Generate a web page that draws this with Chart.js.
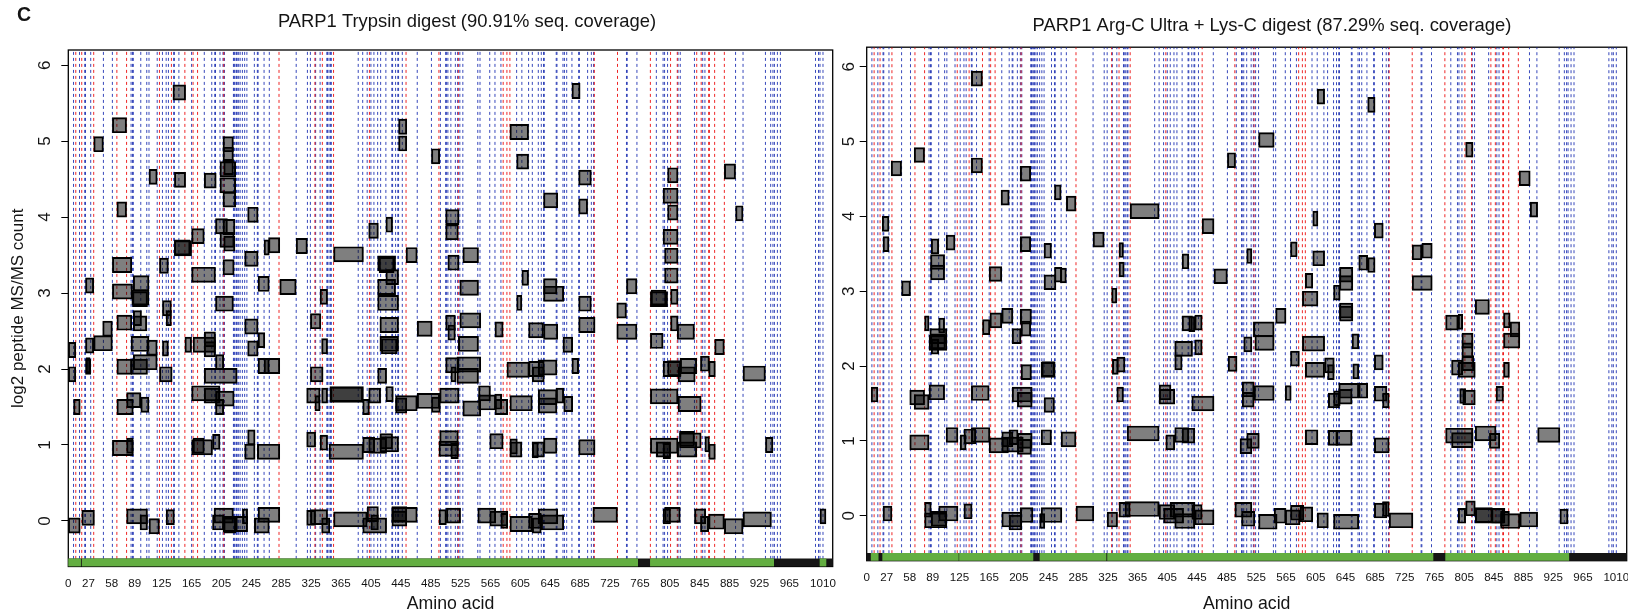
<!DOCTYPE html>
<html>
<head>
<meta charset="utf-8">
<script src="https://cdn.jsdelivr.net/npm/chart.js@4.4.1/dist/chart.umd.min.js"></script>
<style>
html,body{margin:0;padding:0;background:#fff;}
body{width:1628px;height:616px;position:relative;overflow:hidden;}
#c1{position:absolute;left:0;top:0;}
#c2{position:absolute;left:820px;top:0;}
</style>
</head>
<body>
<canvas id="c1" width="850" height="616"></canvas>
<canvas id="c2" width="808" height="616"></canvas>
<script>
// ---------- DATA ----------
// Human PARP1 (P09874) sequence: K residues -> blue dashed lines, R residues -> red dashed lines
const parp1Sequence =
  "MAESSDKLYRVEYAKSGRASCKKCSESIPKDSLRMAIMVQSPMFDGKVPHWYHFSCFWKVGHSIRHPDVEVDGFSELRWDDQQKVKKTAEAGGVTGKGQDGIGSKAEKTLGDFAAEYAKSNRSTCKGCMEKIEKGQVRLSKKMVDPEKPQLGMIDRWYHPGCFVKNREELGFRPEYSASQLKGFSLLATEDKEALKKQLPGVKSEGKRKGDEVDGVDEVAKKKSKKEKDKDSKLEKALKAQNDLIWNIKDELKKVCSTNDLKELLIFNKQQVPSGESAILDRVADGMVFGALLPCEECSGQLVFKSDAYYCTGDVTAWTKCMVKTQTPNRKEWVTPKEFREISYLKKLKVKKQDRIFPPETSASVAATPPPSTASAPAAVNSSASADKPLSNMKILTLGKLSRNKDEVKAMIEKLGGKLTGTANKASLCISTKKEVEKMNKKMEEVKEANIRVVSEDFLQDVSASTKSLQELFLAHILSPWGAEVKAEPVEVVAPRGKSGAALSKKSKGQVKEEGINKSEKRMKLTLKGGAAVDPDSGLEHSAHVLEKGGKVFSATLGLVDIVKGTNSYYKLQLLEDDKENRYWIFRSWGRVGTVIGSNKLEQMPSKEDAIEHFMKLYEEKTGNAWHSKNFTKYPKKFYPLEIDYGQDEEAVKKLTVNPGTKSKLPKPVQDLIKMIFDVESMKKAMVEYEIDLQKMPLGKLSKRQIQAAYSILSEVQQAVSQGSSDSQILDLSNRFYTLIPHDFGMKKPPLLNNADSVQAKVEMLDNLLDIEVAYSLLRGGSDDSSKDPIDVNYEKLKTDIKVVDRDSEEAEIIRKYVKNTHATTHNAYDLEVIDIFKIEREGECQRYKPFKQLHNRRLLWHGSRTTNFAGILSQGLRIAPPEAPVTGYMFGKGIYFADMVSKSANYCHTSQGDPIGLILLGEVALGNMYELKHASHISKLPKGKHSVKGLGKTTPDPSANISLDGVDVPLGTGISSGVNDTSLLYNEYIVYDIAQVNLKYLLKLKFNFKTSLW";

const xTickValues = [0,27,58,89,125,165,205,245,285,325,365,405,445,485,525,565,605,645,685,725,765,805,845,885,925,965,1010];
const yTickValues = [0,1,2,3,4,5,6];

// peptides: [start aa, end aa, log2 MS/MS count (as plotted, with jitter)]
const trypsinPeptides = [
[140,157,5.64],[59,78,5.21],[34,47,4.96],[207,221,4.96],[207,221,4.82],[203,224,4.63],[208,221,4.66],[108,119,4.53],[142,157,4.49],[182,198,4.48],
[203,224,4.42],[207,224,4.23],[65,78,4.10],[240,254,4.03],[197,213,3.88],[207,223,3.87],[165,182,3.75],[203,222,3.70],[208,223,3.65],[142,165,3.59],
[142,163,3.60],[262,269,3.60],[268,283,3.63],[305,320,3.62],[236,254,3.45],[59,85,3.37],[122,134,3.36],[207,222,3.34],[165,197,3.24],[23,34,3.10],
[87,108,3.13],[59,86,3.02],[85,108,2.94],[86,106,2.92],[254,269,3.12],[283,305,3.08],[337,347,2.95],[197,221,2.86],[126,138,2.80],[131,138,2.67],
[46,59,2.53],[65,85,2.61],[87,105,2.60],[87,98,2.67],[236,254,2.56],[324,338,2.63],[34,59,2.34],[23,34,2.31],[0,10,2.25],[84,108,2.33],
[105,119,2.28],[126,134,2.27],[156,165,2.32],[167,197,2.32],[182,197,2.39],[182,197,2.26],[240,254,2.27],[254,263,2.38],[339,347,2.30],[0,10,1.93],
[23,30,2.03],[24,29,2.05],[65,85,2.03],[84,106,2.03],[87,119,2.09],[122,139,1.93],[182,226,1.91],[197,208,2.09],[254,269,2.04],[262,283,2.04],
[324,341,1.93],[165,203,1.68],[182,203,1.65],[197,222,1.61],[197,208,1.50],[7,16,1.50],[65,87,1.50],[78,97,1.59],[97,108,1.53],[319,337,1.65],
[330,337,1.55],[339,347,1.65],[59,87,0.96],[78,87,0.99],[165,193,0.97],[167,182,0.99],[193,203,1.04],[236,250,0.91],[240,250,1.10],[253,283,0.91],
[319,331,1.07],[337,347,1.03],[0,16,-0.06],[18,35,0.04],[78,106,0.06],[96,106,-0.02],[108,122,-0.07],[131,142,0.05],[195,221,0.07],[193,208,-0.02],
[207,226,-0.04],[208,224,-0.06],[224,240,-0.04],[233,240,0.06],[249,269,-0.06],[254,283,0.08],[319,331,0.04],[324,347,0.05],[339,350,-0.06],
[674,685,5.66],[442,453,5.19],[442,453,4.97],[486,497,4.80],[591,616,5.12],[600,616,4.73],[683,700,4.52],[636,655,4.22],[683,695,4.14],[505,523,4.00],
[505,522,3.80],[402,415,3.82],[425,434,3.90],[355,395,3.51],[414,438,3.39],[416,436,3.37],[452,467,3.50],[508,523,3.40],[528,549,3.50],[425,442,3.21],
[414,438,3.08],[524,549,3.07],[607,616,3.20],[636,654,3.09],[636,663,2.99],[414,442,2.87],[600,607,2.87],[683,700,2.86],[417,442,2.58],[417,442,2.33],
[419,440,2.30],[467,487,2.53],[505,518,2.61],[508,518,2.48],[524,552,2.64],[522,549,2.33],[571,582,2.52],[616,636,2.51],[636,655,2.49],[683,705,2.58],
[662,675,2.32],[505,523,2.05],[520,552,2.06],[512,519,1.93],[520,549,1.91],[414,426,1.91],[587,617,1.99],[616,637,2.00],[621,637,1.93],[629,654,2.02],
[674,683,2.04],[350,395,1.67],[351,394,1.66],[402,418,1.65],[394,403,1.50],[425,435,1.67],[438,467,1.55],[438,453,1.52],[467,497,1.58],[486,498,1.53],
[497,523,1.65],[528,552,1.48],[549,565,1.68],[549,572,1.56],[571,580,1.57],[571,588,1.50],[591,621,1.55],[629,654,1.63],[629,654,1.52],[653,663,1.65],
[663,675,1.54],[349,395,0.91],[394,410,1.00],[402,426,0.99],[417,442,1.01],[417,434,1.05],[497,522,1.09],[496,522,0.95],[512,522,0.92],[564,582,1.05],
[591,601,0.98],[591,607,0.94],[621,629,0.93],[621,637,0.94],[636,654,0.99],[683,705,0.97],[355,400,0.02],[394,426,-0.06],[400,415,0.09],[405,415,-0.02],
[433,453,0.09],[433,467,0.08],[433,453,0.03],[496,506,0.05],[506,525,0.07],[548,572,0.07],[564,588,0.03],[579,588,0.00],[591,621,-0.04],[616,633,0.00],
[621,633,-0.06],[629,655,0.06],[633,663,-0.02],
[802,816,4.55],[878,893,4.60],[796,816,4.28],[802,816,4.06],[893,903,4.05],[796,816,3.74],[798,816,3.49],[798,816,3.23],[747,761,3.09],[779,802,2.92],
[780,800,2.94],[806,816,2.95],[734,747,2.77],[734,761,2.49],[806,816,2.60],[815,838,2.49],[779,796,2.37],[865,878,2.29],[796,820,2.00],[802,820,2.01],
[819,841,2.04],[816,839,1.93],[846,858,2.07],[857,866,2.00],[903,933,1.94],[779,816,1.64],[816,847,1.54],[779,816,0.99],[787,806,0.94],[796,806,0.92],
[815,841,0.94],[818,847,1.06],[818,838,1.08],[852,858,1.01],[857,866,0.91],[933,943,1.00],[702,735,0.08],[796,806,0.06],[798,819,0.08],[838,853,0.06],
[846,857,-0.04],[857,878,-0.01],[878,903,-0.07],[903,941,0.02],[1006,1014,0.06]
];

const argcLyscPeptides = [
[141,156,5.84],[64,78,4.82],[33,47,4.64],[141,156,4.68],[207,221,4.57],[486,497,4.75],[181,192,4.25],[253,262,4.32],[269,282,4.17],[355,394,4.07],
[452,468,3.87],[21,30,3.90],[22,30,3.63],[87,97,3.60],[107,119,3.65],[207,221,3.63],[239,249,3.54],[305,320,3.69],[340,346,3.55],[86,105,3.39],
[86,105,3.25],[165,182,3.23],[253,263,3.22],[261,269,3.21],[239,255,3.12],[340,347,3.29],[425,434,3.40],[468,486,3.20],[47,59,3.04],[330,337,2.94],
[78,84,2.57],[97,105,2.54],[85,108,2.40],[84,108,2.31],[86,106,2.33],[87,97,2.26],[156,166,2.52],[166,182,2.61],[182,197,2.67],[207,222,2.66],
[208,221,2.50],[196,208,2.40],[425,439,2.57],[434,442,2.56],[442,452,2.58],[415,439,2.23],[442,452,2.25],[415,425,2.05],[487,499,2.03],[208,222,1.92],
[235,254,1.95],[236,253,1.96],[331,339,1.99],[337,348,2.02],[6,15,1.62],[58,78,1.58],[64,84,1.52],[84,105,1.65],[141,165,1.64],[196,223,1.62],
[203,223,1.55],[239,253,1.48],[337,346,1.62],[394,410,1.65],[394,415,1.59],[438,468,1.50],[58,84,0.98],[107,123,1.08],[126,134,0.98],[131,147,1.06],
[141,166,1.08],[165,191,0.94],[182,197,1.02],[192,204,1.05],[182,211,0.95],[203,223,1.00],[203,222,0.92],[235,249,1.05],[262,282,1.02],[351,394,1.10],
[403,415,0.98],[415,434,1.08],[425,442,1.07],[78,87,0.08],[22,34,0.03],[78,108,-0.06],[87,108,-0.04],[97,123,0.03],[131,142,0.06],[182,209,-0.05],
[192,209,-0.09],[207,224,0.01],[233,240,-0.07],[235,263,0.01],[282,306,0.03],[324,338,-0.05],[340,355,0.08],[348,394,0.09],[394,415,0.05],[400,427,0.00],
[409,442,0.08],[415,442,-0.07],[438,452,0.05],[442,468,-0.02],[496,519,0.08],
[607,617,5.60],[675,685,5.49],[528,549,5.02],[807,817,4.89],[879,894,4.51],[894,904,4.09],[601,608,3.97],[684,696,3.81],[512,519,3.47],[571,580,3.56],
[601,617,3.44],[735,748,3.52],[748,762,3.54],[663,675,3.38],[675,685,3.35],[637,655,3.22],[637,655,3.11],[735,762,3.11],[591,601,3.14],[587,608,2.90],
[629,638,2.98],[820,839,2.79],[551,565,2.67],[637,655,2.74],[637,655,2.70],[521,549,2.49],[780,797,2.58],[797,803,2.59],[858,867,2.61],[867,880,2.49],
[858,880,2.34],[508,519,2.29],[523,549,2.31],[587,617,2.30],[654,663,2.33],[802,817,2.34],[802,817,2.21],[571,583,2.10],[591,617,1.95],[617,630,2.01],
[621,630,1.92],[655,663,1.93],[684,696,2.05],[788,803,1.98],[797,820,1.95],[802,818,2.04],[858,866,1.95],[506,522,1.69],[506,522,1.55],[522,549,1.64],
[564,572,1.64],[622,637,1.54],[629,638,1.57],[636,663,1.67],[636,654,1.59],[663,675,1.67],[684,701,1.63],[695,704,1.54],[799,807,1.60],[803,820,1.58],
[848,858,1.63],[503,519,0.93],[512,529,1.00],[591,608,1.05],[622,635,1.04],[632,654,1.04],[684,704,0.94],[780,817,1.07],[788,817,1.01],[820,848,1.10],
[839,853,1.00],[904,934,1.08],[505,523,-0.04],[528,553,-0.08],[549,565,0.00],[564,584,-0.02],[571,589,0.04],[584,601,0.02],[607,622,-0.06],[629,663,-0.08],
[684,701,0.07],[695,704,0.09],[704,736,-0.06],[797,807,0.00],[807,820,0.10],[820,843,0.01],[820,858,0.00],[842,860,0.00],[854,866,-0.04],[854,880,-0.07],
[880,904,-0.05],[934,945,-0.01]
];

// residue ranges with no peptide coverage (black in the coverage strip)
const trypsinGaps  = [[16.5,18.5],[762,779],[944,1006]];
const argcLyscGaps = [[0,6],[15.5,21.5],[123.5,125],[224,233.5],[322.5,324.5],[763,780],[946,1014]];

// ---------- STYLE / HELPERS ----------
const FONT = '"Liberation Sans", Arial, Helvetica, sans-serif';
const TEXT = '#141414';
const K_COLOR = 'rgba(20,40,175,0.85)';
const R_COLOR = 'rgba(235,0,0,0.85)';
const COV_Y = -0.55, Y_MIN = -0.6, LINE_BOTTOM = -0.5;

function residueLines(letter, top) {
  const pts = [];
  for (let i = 0; i < parp1Sequence.length; i++) {
    if (parp1Sequence[i] === letter) {
      const p = i + 1;
      pts.push({x: p, y: LINE_BOTTOM}, {x: p, y: top}, {x: p, y: null});
    }
  }
  return pts;
}
function coveredSegments(gaps, len) {
  const segs = []; let cur = 0;
  gaps.forEach(([a, b]) => { if (a > cur) segs.push([cur, a]); cur = Math.max(cur, b); });
  if (cur < len) segs.push([cur, len]);
  return segs;
}

const panelDecor = {
  id: 'panelDecor',
  beforeDatasetsDraw(chart) {
    const {ctx, chartArea: a} = chart;
    ctx.save();
    ctx.strokeStyle = '#000'; ctx.lineWidth = 1.3;
    ctx.strokeRect(a.left, a.top, a.right - a.left, a.bottom - a.top);
    ctx.restore();
  },
  afterDraw(chart, args, opts) {
    const ctx = chart.ctx;
    ctx.save();
    ctx.fillStyle = TEXT;
    ctx.textBaseline = 'alphabetic';
    ctx.textAlign = 'center';
    ctx.font = '18.4px ' + FONT;
    ctx.fillText(opts.title, opts.titleX, opts.titleY);
    if (opts.letter) {
      ctx.textAlign = 'left';
      ctx.font = 'bold 19.5px ' + FONT;
      ctx.fillText(opts.letter, 17, 21);
    }
    ctx.restore();
  }
};

function buildChart(canvasId, p) {
  const canvas = document.getElementById(canvasId);
  const pxPerUnit = (p.area.bottom - p.area.top) / (p.yMax - Y_MIN);
  return new Chart(canvas, {
    type: 'bar',
    data: {
      datasets: [
        {type: 'line', label: 'Lys (K)', data: residueLines('K', p.yMax), borderColor: K_COLOR, borderWidth: 1,
         borderDash: [3, 3], pointRadius: 0, spanGaps: false, fill: false, tension: 0, order: 3},
        {type: 'line', label: 'Arg (R)', data: residueLines('R', p.yMax), borderColor: R_COLOR, borderWidth: 1,
         borderDash: [3, 3], pointRadius: 0, spanGaps: false, fill: false, tension: 0, order: 2},
        {type: 'bar', indexAxis: 'y', label: 'Peptides', grouped: false,
         data: p.peptides.map(([s, e, v]) => ({x: [s, e], y: v})),
         backgroundColor: 'rgba(0,0,0,0.5)', borderColor: '#000', borderWidth: 1.3, borderSkipped: false,
         barThickness: 0.2 * pxPerUnit, order: 1},
        {type: 'bar', indexAxis: 'y', label: 'Not covered', grouped: false,
         data: [{x: [0, p.xMax], y: COV_Y}], backgroundColor: '#151515', borderWidth: 0,
         barThickness: 0.1 * pxPerUnit, order: 0},
        {type: 'bar', indexAxis: 'y', label: 'Covered', grouped: false,
         data: coveredSegments(p.gaps, parp1Sequence.length).map(([a, b]) => ({x: [a, b], y: COV_Y})),
         backgroundColor: '#63ae41', borderWidth: 0, barThickness: 0.1 * pxPerUnit, order: -1}
      ]
    },
    options: {
      responsive: false, animation: false, events: [], devicePixelRatio: 1,
      layout: {padding: {top: p.area.top, right: p.canvasW - p.area.right, left: 0, bottom: 0}},
      plugins: {
        legend: {display: false}, tooltip: {enabled: false}, title: {display: false},
        panelDecor: {title: p.title, titleX: p.titleX, titleY: p.titleY, letter: p.letter}
      },
      scales: {
        x: {
          type: 'linear', min: 0, max: p.xMax, offset: false,
          grid: {display: false, offset: false}, border: {display: false},
          afterBuildTicks: s => { s.ticks = xTickValues.map(v => ({value: v})); },
          afterFit: s => { s.height = 616 - p.area.bottom; s.paddingLeft = 0; s.paddingRight = 0; },
          ticks: {autoSkip: false, maxRotation: 0, minRotation: 0, padding: 2.5, color: TEXT,
                  font: {family: FONT, size: 11.6}, callback: v => String(v)},
          title: {display: true, text: 'Amino acid', color: TEXT, font: {family: FONT, size: 17.7},
                  padding: {top: 0, bottom: 0.8}}
        },
        y: {
          type: 'linear', min: Y_MIN, max: p.yMax, offset: false,
          grid: {display: true, offset: false, drawOnChartArea: false, drawTicks: true, tickLength: 7, color: '#000', lineWidth: 1},
          border: {display: false},
          afterBuildTicks: s => { s.ticks = yTickValues.map(v => ({value: v})); },
          afterFit: s => { s.width = p.area.left; s.paddingTop = 0; s.paddingBottom = 0; },
          ticks: {autoSkip: false, minRotation: 90, maxRotation: 90, crossAlign: 'center', padding: p.yTickPad,
                  color: TEXT, font: {family: FONT, size: 17}, callback: v => String(v)},
          title: {display: p.yTitle, text: 'log2 peptide MS/MS count', color: TEXT,
                  font: {family: FONT, size: 17}, padding: {top: 8.5, bottom: 0}}
        }
      }
    },
    plugins: [panelDecor]
  });
}

buildChart('c1', {
  peptides: trypsinPeptides, gaps: trypsinGaps,
  canvasW: 850, area: {left: 68.3, right: 832.7, top: 50, bottom: 566.5},
  xMax: 1023, yMax: 6.2, yTickPad: 11.5, yTitle: true,
  title: 'PARP1 Trypsin digest (90.91% seq. coverage)', titleX: 467, titleY: 27.3, letter: 'C'
});
buildChart('c2', {
  peptides: argcLyscPeptides, gaps: argcLyscGaps,
  canvasW: 808, area: {left: 46.7, right: 806.7, top: 47.2, bottom: 560.7},
  xMax: 1024, yMax: 6.26, yTickPad: 5.3, yTitle: false,
  title: 'PARP1 Arg-C Ultra + Lys-C digest (87.29% seq. coverage)', titleX: 452, titleY: 31, letter: null
});
</script>
</body>
</html>
